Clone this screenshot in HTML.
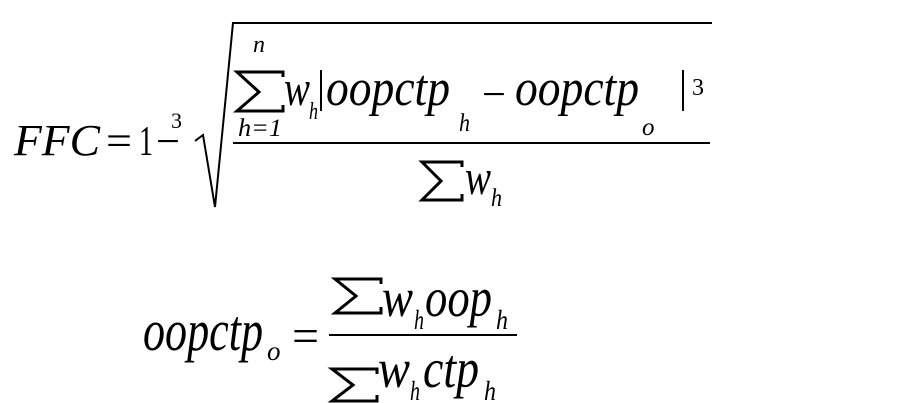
<!DOCTYPE html>
<html><head><meta charset="utf-8"><style>
html,body{margin:0;padding:0;background:#fff;}
svg{display:block;}
text{font-family:"Liberation Serif",serif;fill:#000;}
.i{font-style:italic;}
</style></head><body>
<svg width="915" height="403" viewBox="0 0 915 403" xmlns="http://www.w3.org/2000/svg">
<g fill="none" stroke="#000" stroke-width="2">
<polyline points="195,141 203,135 215,207 233,23 712,23"/>
<line x1="233" y1="143" x2="710" y2="143"/>
<line x1="321" y1="70" x2="321" y2="111"/>
<line x1="683" y1="70" x2="683" y2="111"/>
<line x1="329" y1="335" x2="517" y2="335"/>
</g>
<g fill="none" stroke="#000" stroke-width="3" stroke-linejoin="miter">
<polyline points="283,77 283,72 237,72 259,92 237,111 283,111 283,105"/>
<polyline points="462,167 462,162 422,162 441,181 422,200 462,200 462,194"/>
<polyline points="381,284 381,279 335,279 356,296 335,313 381,313 381,307"/>
<polyline points="377,374 377,369 332,369 353,385 332,401 377,401 377,395"/>
</g>
<text class="i" x="14" y="155" font-size="44" textLength="86" lengthAdjust="spacingAndGlyphs">FFC</text>
<text x="106" y="155" font-size="42" textLength="26" lengthAdjust="spacingAndGlyphs">=</text>
<text x="139" y="155" font-size="42" textLength="14" lengthAdjust="spacingAndGlyphs">1</text>
<text x="156" y="155" font-size="42" textLength="24" lengthAdjust="spacingAndGlyphs">−</text>
<text x="171" y="128" font-size="22">3</text>
<text class="i" x="253" y="52" font-size="24">n</text>
<text class="i" x="238" y="136" font-size="25" textLength="44" lengthAdjust="spacingAndGlyphs">h=1</text>
<text class="i" x="284" y="105" font-size="50" textLength="26" lengthAdjust="spacingAndGlyphs">w</text>
<text class="i" x="309" y="119" font-size="24" textLength="9" lengthAdjust="spacingAndGlyphs">h</text>
<text class="i" x="326" y="105" font-size="52" textLength="124" lengthAdjust="spacingAndGlyphs">oopctp</text>
<text class="i" x="459" y="131" font-size="25" textLength="11" lengthAdjust="spacingAndGlyphs">h</text>
<text x="482" y="108" font-size="42" textLength="24" lengthAdjust="spacingAndGlyphs">−</text>
<text class="i" x="515" y="105" font-size="52" textLength="124" lengthAdjust="spacingAndGlyphs">oopctp</text>
<text class="i" x="642" y="135" font-size="25">o</text>
<text x="692" y="95" font-size="24">3</text>
<text class="i" x="465" y="194" font-size="50" textLength="26" lengthAdjust="spacingAndGlyphs">w</text>
<text class="i" x="491" y="206" font-size="25" textLength="11" lengthAdjust="spacingAndGlyphs">h</text>
<text class="i" x="143" y="350" font-size="58" textLength="120" lengthAdjust="spacingAndGlyphs">oopctp</text>
<text class="i" x="267" y="360" font-size="27">o</text>
<text x="292" y="352" font-size="48" textLength="27" lengthAdjust="spacingAndGlyphs">=</text>
<text class="i" x="382" y="316" font-size="55" textLength="31" lengthAdjust="spacingAndGlyphs">w</text>
<text class="i" x="414" y="329" font-size="27" textLength="10" lengthAdjust="spacingAndGlyphs">h</text>
<text class="i" x="425" y="316" font-size="55" textLength="67" lengthAdjust="spacingAndGlyphs">oop</text>
<text class="i" x="496" y="329" font-size="27" textLength="12" lengthAdjust="spacingAndGlyphs">h</text>
<text class="i" x="378" y="387" font-size="55" textLength="32" lengthAdjust="spacingAndGlyphs">w</text>
<text class="i" x="410" y="400" font-size="27" textLength="10" lengthAdjust="spacingAndGlyphs">h</text>
<text class="i" x="423" y="387" font-size="55" textLength="56" lengthAdjust="spacingAndGlyphs">ctp</text>
<text class="i" x="484" y="400" font-size="27" textLength="12" lengthAdjust="spacingAndGlyphs">h</text>
</svg>
</body></html>
